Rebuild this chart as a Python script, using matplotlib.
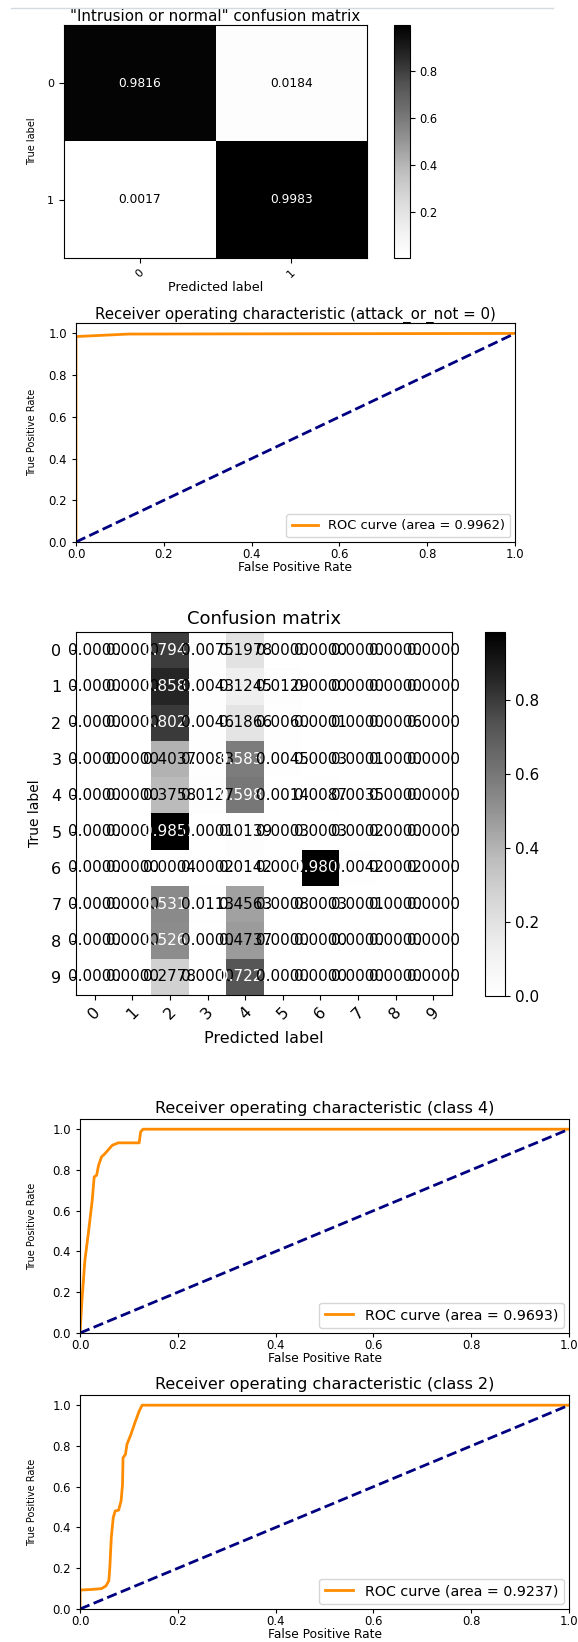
import matplotlib
matplotlib.use('Agg')
import matplotlib.pyplot as plt
from matplotlib.lines import Line2D
import numpy as np

W, H = 578, 1642

# "Intrusion or normal" confusion matrix (normalized)
binary_labels = ['0', '1']
binary_cm = [[0.9816, 0.0184],
             [0.0017, 0.9983]]

# attack class confusion matrix (normalized)
class_labels = ['0', '1', '2', '3', '4', '5', '6', '7', '8', '9']
class_cm = [
    [0.0000, 0.0000, 0.7947, 0.0075, 0.1978, 0.0000, 0.0000, 0.0000, 0.0000, 0.0000],
    [0.0000, 0.0000, 0.8583, 0.0043, 0.1245, 0.0129, 0.0000, 0.0000, 0.0000, 0.0000],
    [0.0000, 0.0000, 0.8021, 0.0046, 0.1866, 0.0060, 0.0001, 0.0000, 0.0006, 0.0000],
    [0.0000, 0.0000, 0.4037, 0.0083, 0.5831, 0.0045, 0.0003, 0.0001, 0.0000, 0.0000],
    [0.0000, 0.0000, 0.3758, 0.0127, 0.5980, 0.0014, 0.0087, 0.0035, 0.0000, 0.0000],
    [0.0000, 0.0000, 0.9851, 0.0001, 0.0139, 0.0003, 0.0003, 0.0002, 0.0000, 0.0000],
    [0.0000, 0.0000, 0.0004, 0.0002, 0.0142, 0.0002, 0.9806, 0.0042, 0.0002, 0.0000],
    [0.0000, 0.0000, 0.5313, 0.0113, 0.4563, 0.0008, 0.0003, 0.0001, 0.0000, 0.0000],
    [0.0000, 0.0000, 0.5263, 0.0000, 0.4737, 0.0000, 0.0000, 0.0000, 0.0000, 0.0000],
    [0.0000, 0.0000, 0.2778, 0.0000, 0.7222, 0.0000, 0.0000, 0.0000, 0.0000, 0.0000],
]

# ROC attack_or_not = 0
roc0_fpr = [0.0, 0.0, 0.12, 1.0]
roc0_tpr = [0.0, 0.985, 0.997, 1.0]
roc0_auc = 0.9962

# ROC class 4
roc4_fpr = [0.0, 0.004, 0.010, 0.017, 0.025, 0.029, 0.034, 0.038, 0.044, 0.051,
            0.059, 0.066, 0.078, 0.121, 0.124, 0.129, 1.0]
roc4_tpr = [0.0, 0.16, 0.357, 0.488, 0.651, 0.766, 0.774, 0.823, 0.864, 0.88,
            0.902, 0.921, 0.933, 0.933, 0.987, 1.0, 1.0]
roc4_auc = 0.9693

# ROC class 2
roc2_fpr = [0.0, 0.0, 0.025, 0.044, 0.053, 0.059, 0.061, 0.064, 0.068, 0.072,
            0.079, 0.084, 0.087, 0.088, 0.093, 0.096, 0.104, 0.111, 0.121, 0.127, 1.0]
roc2_tpr = [0.0, 0.093, 0.096, 0.10, 0.113, 0.139, 0.204, 0.351, 0.449, 0.481,
            0.485, 0.530, 0.612, 0.742, 0.759, 0.808, 0.856, 0.905, 0.971, 1.0, 1.0]
roc2_auc = 0.9237


def add_ax(fig, left, top, right, bottom):
    return fig.add_axes([left / W, 1 - bottom / H, (right - left) / W, (bottom - top) / H])


def plot_cm(fig, ax, cax, cm, labels, title, fs_cell, fs_tick, fs_cbar, fs_title,
            fs_xlab, fs_ylab, title_pad, ylab_x, xlab_y, ypad=3.5):
    cm = np.array(cm)
    im = ax.imshow(cm, interpolation='nearest', cmap=plt.cm.Greys, aspect='auto')
    ax.set_title(title, fontsize=fs_title, pad=title_pad)
    cb = fig.colorbar(im, cax=cax)
    cb.ax.tick_params(labelsize=fs_cbar)
    ticks = np.arange(len(labels))
    ax.set_xticks(ticks)
    ax.set_xticklabels(labels, rotation=45, fontsize=fs_tick)
    ax.set_yticks(ticks)
    ax.set_yticklabels(labels, fontsize=fs_tick)
    ax.tick_params(axis='y', pad=ypad)
    thresh = cm.max() / 2.
    for i in range(cm.shape[0]):
        for j in range(cm.shape[1]):
            ax.text(j, i, format(cm[i, j], '.4f'), ha='center', va='center',
                    fontsize=fs_cell, color='white' if cm[i, j] > thresh else 'black')
    ax.set_ylabel('True label', fontsize=fs_ylab)
    ax.set_xlabel('Predicted label', fontsize=fs_xlab)
    ax.yaxis.set_label_coords(ylab_x, 0.5)
    ax.xaxis.set_label_coords(0.5, xlab_y)


def plot_roc(ax, fpr, tpr, auc, title, fs_title, fs_leg, title_pad, ylab_x, xlab_y):
    ax.plot(fpr, tpr, color='darkorange', lw=2, label='ROC curve (area = %0.4f)' % auc)
    ax.plot([0, 1], [0, 1], color='navy', lw=2, linestyle='--')
    ax.set_xlim([0.0, 1.0])
    ax.set_ylim([0.0, 1.05])
    ax.tick_params(labelsize=8.4, length=3)
    ax.tick_params(axis='x', pad=1)
    ax.set_xlabel('False Positive Rate', fontsize=8.8)
    ax.set_ylabel('True Positive Rate', fontsize=7)
    ax.yaxis.set_label_coords(ylab_x, 0.5)
    ax.xaxis.set_label_coords(0.5, xlab_y)
    ax.set_title(title, fontsize=fs_title, pad=title_pad)
    ax.legend(loc='lower right', fontsize=fs_leg, borderaxespad=0.35)


fig = plt.figure(figsize=(W / 100, H / 100), dpi=100)

# separator line at the very top
fig.add_artist(Line2D([11 / W, 553 / W], [1 - 8 / H, 1 - 8 / H], color='#d3dae2', lw=1))

ax1 = add_ax(fig, 64, 25, 367, 258)
cax1 = add_ax(fig, 394, 25, 410, 258)
plot_cm(fig, ax1, cax1, binary_cm, binary_labels, '"Intrusion or normal" confusion matrix',
        fs_cell=8.8, fs_tick=8, fs_cbar=8.3, fs_title=10.8, fs_xlab=9.2, fs_ylab=7,
        title_pad=3, ylab_x=-0.089, xlab_y=-0.1)

ax2 = add_ax(fig, 76, 323, 515, 542)
plot_roc(ax2, roc0_fpr, roc0_tpr, roc0_auc, 'Receiver operating characteristic (attack_or_not = 0)',
         fs_title=10.8, fs_leg=9.4, title_pad=3, ylab_x=-0.088, xlab_y=-0.088)

ax3 = add_ax(fig, 76, 632, 452, 995)
cax3 = add_ax(fig, 485, 632, 505, 996)
plot_cm(fig, ax3, cax3, class_cm, class_labels, 'Confusion matrix',
        fs_cell=11, fs_tick=11.5, fs_cbar=11, fs_title=13, fs_xlab=11.5, fs_ylab=10,
        title_pad=6, ylab_x=-0.09, xlab_y=-0.1, ypad=7)

ax4 = add_ax(fig, 80, 1119, 569, 1333)
plot_roc(ax4, roc4_fpr, roc4_tpr, roc4_auc, 'Receiver operating characteristic (class 4)',
         fs_title=11.5, fs_leg=10.3, title_pad=4, ylab_x=-0.088, xlab_y=-0.09)

ax5 = add_ax(fig, 80, 1395, 569, 1609)
plot_roc(ax5, roc2_fpr, roc2_tpr, roc2_auc, 'Receiver operating characteristic (class 2)',
         fs_title=11.5, fs_leg=10.3, title_pad=4, ylab_x=-0.088, xlab_y=-0.09)

fig.savefig('out.png', dpi=100)
